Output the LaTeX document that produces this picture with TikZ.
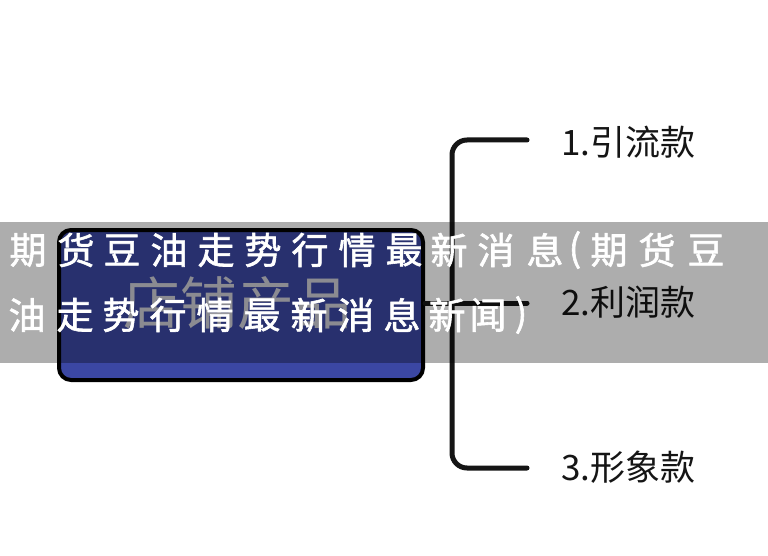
\documentclass[tikz,border=0pt]{standalone}
\usepackage{fontspec}
\newfontfamily\cjk{Noto Sans CJK SC}
\newfontfamily\cjkbold{Noto Sans CJK SC}[FakeBold=1.6]
\definecolor{boxblue}{HTML}{3B47A3}
\definecolor{shopgray}{HTML}{CDCDD6}
\definecolor{ink}{HTML}{151515}
\newcommand\lp{(}
\newcommand\rp{)}
\tikzset{
  bracket/.style={draw=ink, line width=5pt, rounded corners=15pt, line cap=round},
  lab/.style={anchor=west, inner sep=0pt, text=ink, font=\cjk\fontsize{35}{35}\selectfont},
  ovl/.style={inner sep=0pt, text=white, font=\cjkbold\fontsize{37}{37}\selectfont}
}
\begin{document}
\begin{tikzpicture}[x=1pt,y=-1pt]
\useasboundingbox (0,0) rectangle (768,556);
\fill[white] (0,0) rectangle (768,556);
% main box
\node[draw=black, line width=4pt, fill=boxblue, rounded corners=12pt,
      minimum width=364pt, minimum height=150pt, inner sep=0pt] (box) at (241,305) {};
\node[text=shopgray, inner sep=0pt, font=\cjk\fontsize{57}{57}\selectfont] (shop) at (237,303) {店铺产品};
% bracket
\coordinate (top) at (527,140);
\coordinate (bot) at (527,468);
\coordinate (mid) at (527,303);
\coordinate (spine) at (452,303);
\draw[bracket] (top) -- (spine |- top) -- (spine |- bot) -- (bot);
\draw[bracket] (box.east |- mid) -- (mid);
% labels
\node[lab] (l1) at (561,142) {1.引流款};
\node[lab] (l2) at (561,302) {2.利润款};
\node[lab] (l3) at (561,467) {3.形象款};
% grey band
\fill[black, opacity=0.32] (0,222) rectangle (768,363);
% overlay title
\foreach \c/\x [count=\i] in {期/28,货/76,豆/122,油/169,走/216,势/263,行/310,情/357,最/404,新/449,消/496,息/545,\lp/575,期/609,货/657,豆/706}{
  \node[ovl] (ta\i) at (\x,250) {\c};
}
\foreach \c/\x [count=\i] in {油/27,走/75,势/121,行/168,情/215,最/262,新/309,消/356,息/402,新/447,闻/488,\rp/521}{
  \node[ovl] (tb\i) at (\x,315) {\c};
}
\end{tikzpicture}
\end{document}
